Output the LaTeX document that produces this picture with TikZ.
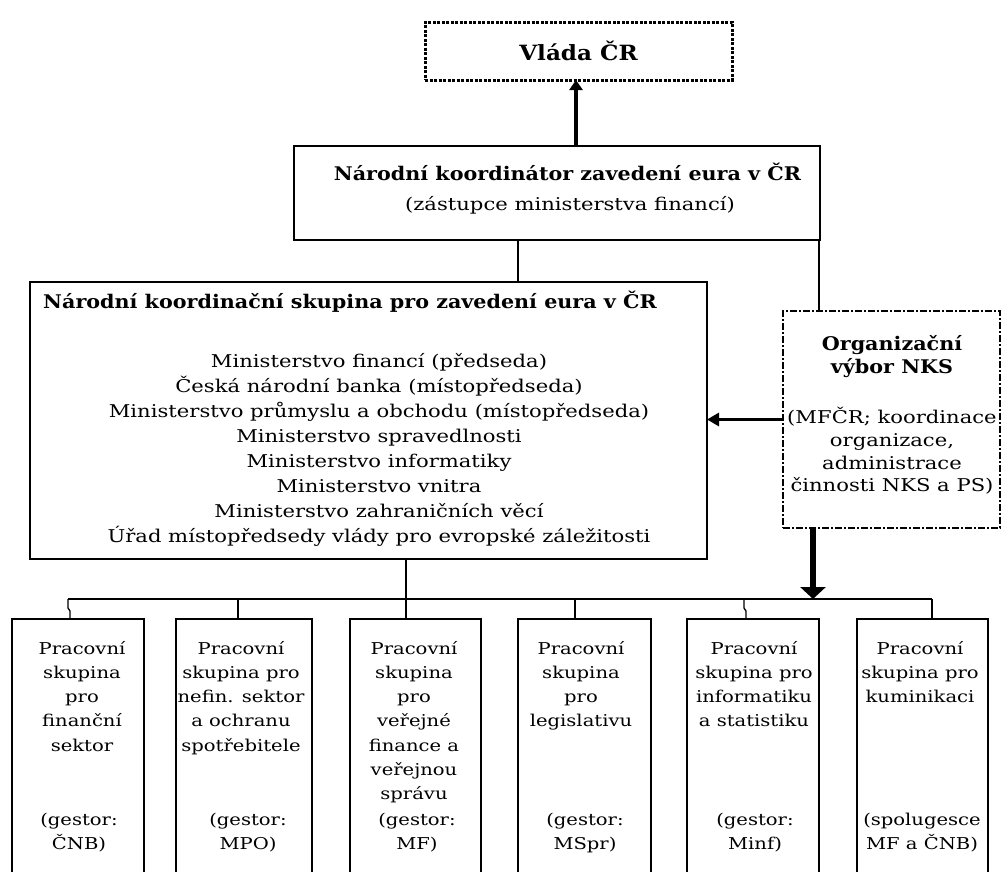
\documentclass[tikz,border=0pt]{standalone}
\usepackage{fontspec}
\usetikzlibrary{arrows.meta}
\newfontfamily\nfont[FakeStretch=1.2]{DejaVu Serif}
\newfontfamily\bfont[FakeStretch=1.1]{DejaVu Serif}
\begin{document}
\begin{tikzpicture}[x=1pt,y=-1pt,
  box/.style={draw=black,line width=1.3pt,rectangle,inner sep=0pt,outer sep=0pt},
  psbox/.style={box,minimum height=300pt},
  txt/.style={inner sep=0pt,align=center,font=\nfont\fontsize{17.6}{25}\selectfont},
  btxt/.style={inner sep=0pt,align=center,font=\bfont\bfseries\fontsize{18.8}{23}\selectfont},
  ptxt/.style={inner sep=0pt,align=center,font=\nfont\fontsize{16.3}{24.2}\selectfont},
  conn/.style={draw=black,line width=1.3pt},
  arrA/.style={draw=black,line width=3.5pt,-{Triangle[width=13pt,length=10pt]}},
  arrB/.style={draw=black,line width=3pt,-{Triangle[width=13pt,length=12pt]}},
  arrC/.style={draw=black,line width=6pt,-{Triangle[width=25pt,length=12pt]}}]
\clip (0,0) rectangle (1002,871);
\fill[white] (0,0) rectangle (1002,871);

% top: government
\node[box,line width=3pt,dash pattern=on 3pt off 1.5pt,minimum width=307pt,minimum height=58pt,
  font=\bfont\bfseries\fontsize{21}{24}\selectfont] (vlada) at (578.5,51) {Vláda ČR};

% national coordinator
\node[box,minimum width=526pt,minimum height=94pt] (koord) at (557,193) {};
\node[btxt] (koordH) at (567.5,172) {Národní koordinátor zavedení eura v ČR};
\node[txt] (koordS) at (570,205) {(zástupce ministerstva financí)};

% national coordination group
\node[box,minimum width=677pt,minimum height=277pt] (nks) at (368.5,420.5) {};
\node[btxt,anchor=west] (nksH) at (43,302) {Národní koordinační skupina pro zavedení eura v ČR};
\node[txt] (nksL) at (379,449.5) {Ministerstvo financí (předseda)\\
Česká národní banka (místopředseda)\\
Ministerstvo průmyslu a obchodu (místopředseda)\\
Ministerstvo spravedlnosti\\
Ministerstvo informatiky\\
Ministerstvo vnitra\\
Ministerstvo zahraničních věcí\\
Úřad místopředsedy vlády pro evropské záležitosti};

% organisational committee
\node[box,line width=1.8pt,dash pattern=on 7pt off 2pt on 2pt off 2pt,minimum width=217pt,minimum height=217pt] (org) at (891.5,419.5) {};
\node[btxt] (orgH) at (892,356.5) {Organizační\\výbor NKS};
\node[txt,font=\nfont\fontsize{17.6}{22.7}\selectfont] (orgT) at (892,451) {(MFČR; koordinace\\organizace,\\administrace\\činnosti NKS a PS)};

% working groups
\node[psbox,minimum width=132pt,anchor=north] (p1) at (78,619) {};
\node[psbox,minimum width=136pt,anchor=north] (p2) at (244,619) {};
\node[psbox,minimum width=131pt,anchor=north] (p3) at (415.5,619) {};
\node[psbox,minimum width=133pt,anchor=north] (p4) at (584.5,619) {};
\node[psbox,minimum width=132pt,anchor=north] (p5) at (753,619) {};
\node[psbox,minimum width=131pt,anchor=north] (p6) at (922.5,619) {};

\node[ptxt,anchor=north] (p1t) at (82,641) {Pracovní\\skupina\\pro\\finanční\\sektor};
\node[ptxt,anchor=north] (p2t) at (241,641) {Pracovní\\skupina pro\\nefin. sektor\\a ochranu\\spotřebitele};
\node[ptxt,anchor=north] (p3t) at (414,641) {Pracovní\\skupina\\pro\\veřejné\\finance a\\veřejnou\\správu};
\node[ptxt,anchor=north] (p4t) at (581,641) {Pracovní\\skupina\\pro\\legislativu};
\node[ptxt,anchor=north] (p5t) at (754,641) {Pracovní\\skupina pro\\informatiku\\a statistiku};
\node[ptxt,anchor=north] (p6t) at (920,641) {Pracovní\\skupina pro\\kuminikaci};

\node[ptxt,anchor=north] (p1g) at (79,813) {(gestor:\\ČNB)};
\node[ptxt,anchor=north] (p2g) at (248,813) {(gestor:\\MPO)};
\node[ptxt,anchor=north] (p3g) at (417,813) {(gestor:\\MF)};
\node[ptxt,anchor=north] (p4g) at (585,813) {(gestor:\\MSpr)};
\node[ptxt,anchor=north] (p5g) at (755,813) {(gestor:\\Minf)};
\node[ptxt,anchor=north] (p6g) at (922,813) {(spolugesce\\MF a ČNB)};

% helper coordinates
\coordinate (x576) at (576,0);
\coordinate (x518) at (518,0);
\coordinate (x819) at (819,0);
\coordinate (x406) at (406,0);
\coordinate (x813) at (813,0);
\coordinate (b1) at (68,599);
\coordinate (b1d) at (70,619);
\coordinate (b2) at (238,599);
\coordinate (b4) at (575,599);
\coordinate (b5) at (744,599);
\coordinate (b5d) at (746,619);
\coordinate (b6) at (932,599);

% connectors
\draw[arrA] (koord.north -| x576) -- (vlada.south -| x576);
\draw[conn] (koord.south -| x518) -- (nks.north -| x518);
\draw[conn] (koord.south -| x819) -- (org.north -| x819);
\draw[arrB] (org.west) -- (org.west -| nks.east);
\draw[arrC] (org.south -| x813) -- (b1 -| x813);
\draw[conn] (b1) -- (b6);
\draw[conn] (nks.south -| x406) -- (p3.north -| x406);
\draw[conn] (b1) -- ++(0,9) -- ++(2,3) -- (b1d);
\draw[conn] (b2) -- (p2.north -| b2);
\draw[conn] (b4) -- (p4.north -| b4);
\draw[conn] (b5) -- ++(0,9) -- ++(2,3) -- (b5d);
\draw[conn] (b6) -- (p6.north -| b6);
\end{tikzpicture}
\end{document}
